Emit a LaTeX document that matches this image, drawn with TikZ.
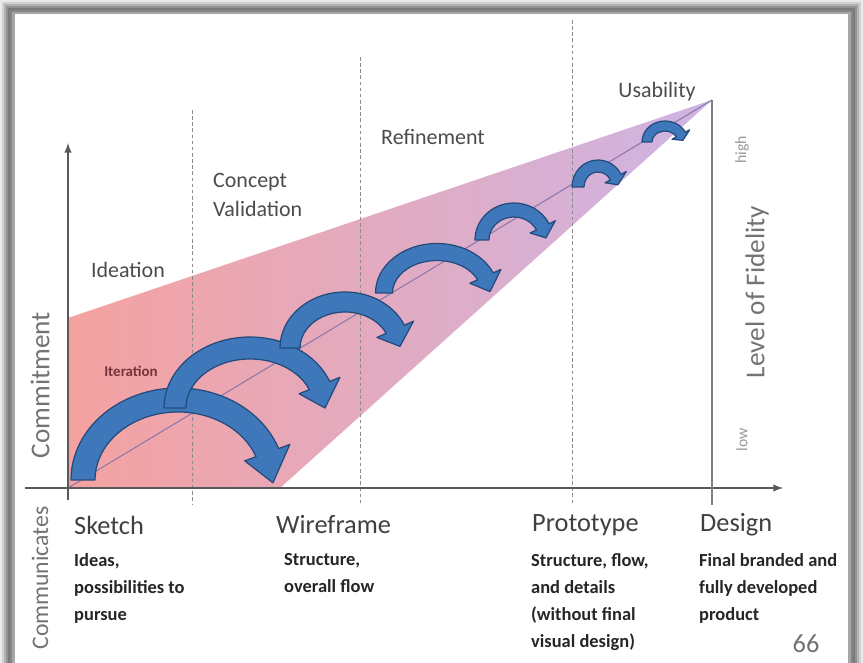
\documentclass[tikz,border=0pt]{standalone}
\usepackage{fontspec}
\setmainfont{Carlito}
\usetikzlibrary{positioning}
\definecolor{arcfill}{RGB}{62,120,186}
\definecolor{arcline}{RGB}{36,74,124}
\definecolor{fidleft}{RGB}{245,162,160}
\definecolor{fidmid}{RGB}{232,156,200}
\definecolor{fidright}{RGB}{206,180,228}
\definecolor{diagline}{RGB}{140,120,170}
\definecolor{iterred}{RGB}{120,50,60}
\tikzset{
  phase/.style={text=black!70, font=\fontsize{12.5}{17}\selectfont},
  stage/.style={text=black!75, font=\fontsize{15}{18}\selectfont, anchor=west},
  note/.style={text=black!85, font=\fontsize{10.5}{15.4}\selectfont\bfseries, anchor=north west, align=left},
  axislabel/.style={text=black!55, font=\fontsize{15.5}{18}\selectfont, rotate=90},
  divider/.style={black!45, dash pattern=on 2pt off 1.5pt, line width=0.5pt},
  axisline/.style={black!65, line width=0.9pt},
  iterarrow/.style={fill=arcfill, draw=arcline, line width=0.7pt, line join=round},
}
% centre x, centre y, x radius, y radius, band width, head angle
\newcommand{\iterarc}[6]{%
  \filldraw[iterarrow, shift={(#1,#2)}]
    (180:{#3+#5/2} and {#4+#5/2})
    arc[start angle=180, end angle=#6, x radius={#3+#5/2}, y radius={#4+#5/2}]
    -- (#6:{#3+#5} and {#4+#5})
    -- ({#6-22}:#3 and #4)
    -- (#6:{#3-#5} and {#4-#5})
    -- (#6:{#3-#5/2} and {#4-#5/2})
    arc[start angle=#6, end angle=180, x radius={#3-#5/2}, y radius={#4-#5/2}]
    -- cycle;}
\begin{document}
\begin{tikzpicture}[x=0.02cm, y=0.02cm]
  \useasboundingbox (0,0) rectangle (863,663);
  \foreach \d/\s in {0/8, 2/18, 4/30, 6/42, 8/52, 10/48, 12/35}
  {
    \fill[black!\s] (\d,0) rectangle (863-\d,663-\d);
  }
  \fill[white] (15,0) rectangle (848,649);

  \coordinate (origin) at (68,175);
  \coordinate (apex) at (712,563);
  \coordinate (topleft) at (68,345);
  \coordinate (botright) at (280,175);
  \shade[left color=fidleft, middle color=fidmid, right color=fidright]
    (topleft) -- (origin) -- (botright) -- (apex) -- cycle;
  \draw[diagline, line width=0.6pt] (origin) -- (apex);

  \draw[divider] (192,553) -- (192,158);
  \draw[divider] (360,606) -- (360,158);
  \draw[divider] (572,643) -- (572,158);

  \iterarc{178}{183}{95}{80}{24}{20}
  \iterarc{250}{255}{75}{60}{22}{22}
  \iterarc{345}{315}{55}{46}{20}{24}
  \iterarc{437}{370}{53}{41}{17}{24}
  \iterarc{514}{423}{32}{30}{14}{26}
  \iterarc{598}{476}{20}{21}{12}{28}
  \iterarc{665}{521}{18}{16}{10}{28}

  \coordinate (ytop) at (68,520);
  \coordinate (ybot) at (68,163);
  \coordinate (xleft) at (25,175);
  \coordinate (xright) at (783,175);
  \coordinate (dbot) at (712,158);
  \draw[axisline,-latex] (ybot) -- (ytop);
  \draw[axisline,-latex] (xleft) -- (xright);
  \draw[axisline, line width=1.1pt, black!50] (apex) -- (dbot);

  \node[phase] (usability) at (657,571) {Usability};
  \node[phase] (refinement) at (433,526) {Refinement};
  \node[phase, anchor=west, align=left] (concept) at (207,468) {Concept\\Validation};
  \node[phase] (ideation) at (128,393) {Ideation};
  \node[text=iterred, font=\fontsize{8.5}{10}\selectfont\bfseries] (iteration) at (131,292) {Iteration};

  \node[axislabel] (commitment) at (40,278) {Commitment};
  \node[axislabel, font=\fontsize{13.5}{16}\selectfont] (communicates) at (40,85) {Communicates};
  \node[axislabel] (fidelity) at (757,371) {Level of Fidelity};
  \node[axislabel, text=black!40, font=\fontsize{9}{10}\selectfont] (high) at (742,513) {high};
  \node[axislabel, text=black!40, font=\fontsize{9}{10}\selectfont] (low) at (742,223) {low};

  \node[stage] (sketch) at (68,138) {Sketch};
  \node[stage] (wireframe) at (270,138) {Wireframe};
  \node[stage] (prototype) at (526,138) {Prototype};
  \node[stage] (design) at (694,138) {Design};

  \node[note] (sketchnote) at (68,116) {Ideas,\\possibilities to\\pursue};
  \node[note] (wirenote) at (278,116) {Structure,\\overall flow};
  \node[note] (protonote) at (525,116) {Structure, flow,\\and details\\(without final\\visual design)};
  \node[note] (designnote) at (693,116) {Final branded and\\fully developed\\product};

  \node[text=black!55, font=\fontsize{15}{17}\selectfont] (page) at (806,19) {66};
\end{tikzpicture}
\end{document}
